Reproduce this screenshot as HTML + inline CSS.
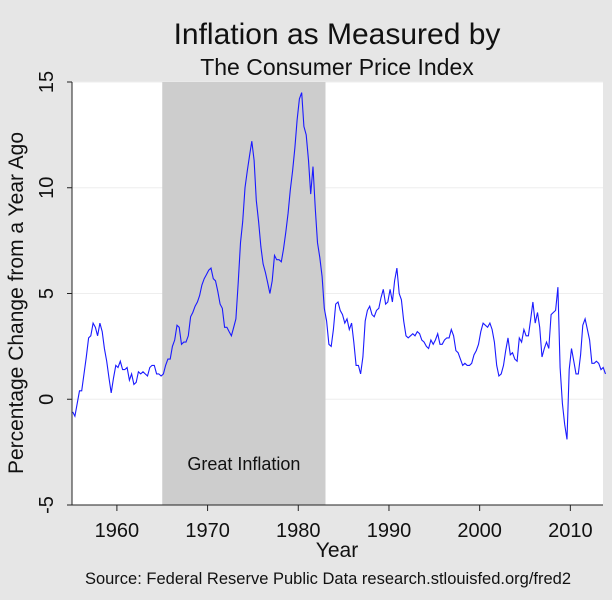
<!DOCTYPE html>
<html><head><meta charset="utf-8"><style>
html,body{margin:0;padding:0;background:#e6e6e6;}
svg{display:block;font-family:"Liberation Sans",Arial,sans-serif;}
</style></head><body>
<svg id="chart" width="612" height="600">
<rect x="0" y="0" width="612" height="600" fill="#e6e6e6"/>
<text x="337" y="44" font-size="30" text-anchor="middle" fill="#111">Inflation as Measured by</text>
<text x="337" y="75" font-size="23" text-anchor="middle" fill="#111">The Consumer Price Index</text>
<text transform="translate(23,303) rotate(-90)" font-size="21" text-anchor="middle" fill="#111">Percentage Change from a Year Ago</text>
<text x="337" y="557" font-size="21" text-anchor="middle" fill="#111">Year</text>
<text x="328" y="584" font-size="16.5" text-anchor="middle" fill="#111">Source: Federal Reserve Public Data research.stlouisfed.org/fred2</text>
<g id="plot"></g>
</svg>
<script>
const years = [1955,1956,1957,1958,1959,1960,1961,1962,1963,1964,1965,1966,1967,1968,1969,1970,1971,1972,1973,1974,1975,1976,1977,1978,1979,1980,1981,1982,1983,1984,1985,1986,1987,1988,1989,1990,1991,1992,1993,1994,1995,1996,1997,1998,1999,2000,2001,2002,2003,2004,2005,2006,2007,2008,2009,2010,2011,2012,2013];
const quarterlyInflation = [
[-0.6,-0.8,-0.2,0.4],[0.4,1.2,2.0,2.9],[3.0,3.6,3.4,3.0],[3.6,3.2,2.4,1.8],[1.0,0.3,1.0,1.6],
[1.5,1.8,1.4,1.4],[1.5,0.9,1.2,0.7],[0.8,1.3,1.2,1.3],[1.2,1.1,1.5,1.6],[1.6,1.2,1.2,1.1],
[1.2,1.6,1.9,1.9],[2.5,2.8,3.5,3.4],[2.6,2.7,2.7,3.0],[3.9,4.1,4.4,4.6],[4.9,5.4,5.7,5.9],
[6.1,6.2,5.7,5.6],[5.1,4.5,4.3,3.4],[3.4,3.2,3.0,3.4],[3.8,5.5,7.4,8.4],[10.0,10.8,11.5,12.2],
[11.3,9.4,8.4,7.2],[6.4,6.0,5.5,5.0],[5.6,6.8,6.6,6.6],[6.5,7.1,7.9,8.8],[9.9,10.8,11.9,13.2],
[14.2,14.5,12.9,12.5],[11.3,9.7,11.0,9.0],[7.4,6.7,5.8,4.3],[3.7,2.6,2.5,3.3],[4.5,4.6,4.2,4.0],
[3.6,3.8,3.3,3.6],[2.7,1.6,1.6,1.2],[2.0,3.7,4.2,4.4],[4.0,3.9,4.2,4.3],[4.8,5.2,4.5,4.6],
[5.2,4.6,5.6,6.2],[5.0,4.7,3.7,3.0],[2.9,3.0,3.1,3.0],[3.2,3.1,2.8,2.7],[2.5,2.4,2.8,2.6],
[2.8,3.1,2.6,2.6],[2.8,2.9,2.9,3.3],[3.0,2.3,2.2,1.9],[1.6,1.7,1.6,1.6],[1.7,2.1,2.3,2.6],
[3.2,3.6,3.5,3.4],[3.6,3.3,2.7,1.6],[1.1,1.2,1.6,2.3],[2.9,2.1,2.2,1.9],[1.8,2.9,2.7,3.3],
[3.0,3.0,3.8,4.6],[3.6,4.1,3.4,2.0],[2.4,2.7,2.4,4.0],[4.1,4.2,5.3,1.5],[-0.2,-1.2,-1.9,1.4],
[2.4,1.8,1.2,1.2],[2.1,3.5,3.8,3.3],[2.8,1.7,1.7,1.8],[1.7,1.4,1.5,1.2]];
const yTicks = [-5,0,5,10,15];
const xTicks = [1960,1970,1980,1990,2000,2010];
const shadeStart = 1965, shadeEnd = 1983;

const NS = "http://www.w3.org/2000/svg";
const g = document.getElementById('plot');
const L=72, R=603, T=82, B=505;
const xMin=1955.05, xMax=2013.6, yMin=-5, yMax=15;
const xs = v => L + (v-xMin)/(xMax-xMin)*(R-L);
const ys = v => B - (v-yMin)/(yMax-yMin)*(B-T);
function el(tag, attrs){const e=document.createElementNS(NS,tag);for(const k in attrs)e.setAttribute(k,attrs[k]);g.appendChild(e);return e;}

let e = el('rect',{x:L,y:T,width:R-L,height:B-T,fill:'#fff'});



yTicks.forEach(t=>{
  if(t===yMin) return;
  const ln = el('line',{x1:L,x2:R,y1:ys(t),y2:ys(t),stroke:'#eeeeee','stroke-width':1});
  
  
});

e = el('rect',{x:xs(shadeStart),y:T,width:xs(shadeEnd)-xs(shadeStart),height:B-T,fill:'#cdcdcd'});


e = el('text',{x:(xs(shadeStart)+xs(shadeEnd))/2,y:470,'font-size':18,'text-anchor':'middle',fill:'#111'});
e.textContent='Great Inflation';



let pts=[];
years.forEach((yr,i)=>{quarterlyInflation[i].forEach((v,q)=>{pts.push(xs(yr+q*0.25+0.125).toFixed(1)+','+ys(v).toFixed(1));});});
e = el('polyline',{points:pts.join(' '),fill:'none',stroke:'#1a1aff','stroke-width':1.1});



e = el('line',{x1:L,x2:L,y1:T,y2:B,stroke:'#222','stroke-width':1});


e = el('line',{x1:L,x2:R,y1:B,y2:B,stroke:'#222','stroke-width':1});



yTicks.forEach(t=>{
  const tk = el('line',{x1:L-5,x2:L,y1:ys(t),y2:ys(t),stroke:'#222'});
  
  
  const tx = el('text',{transform:'translate(53,'+ys(t)+') rotate(-90)','font-size':20,'text-anchor':'middle',fill:'#111'});
  tx.textContent=String(t);
  
  
});
xTicks.forEach(t=>{
  const tk = el('line',{x1:xs(t),x2:xs(t),y1:B,y2:B+6,stroke:'#222'});
  
  
  const tx = el('text',{x:xs(t),y:537,'font-size':20,'text-anchor':'middle',fill:'#111'});
  tx.textContent=String(t);
  
  
});
</script>
</body></html>
